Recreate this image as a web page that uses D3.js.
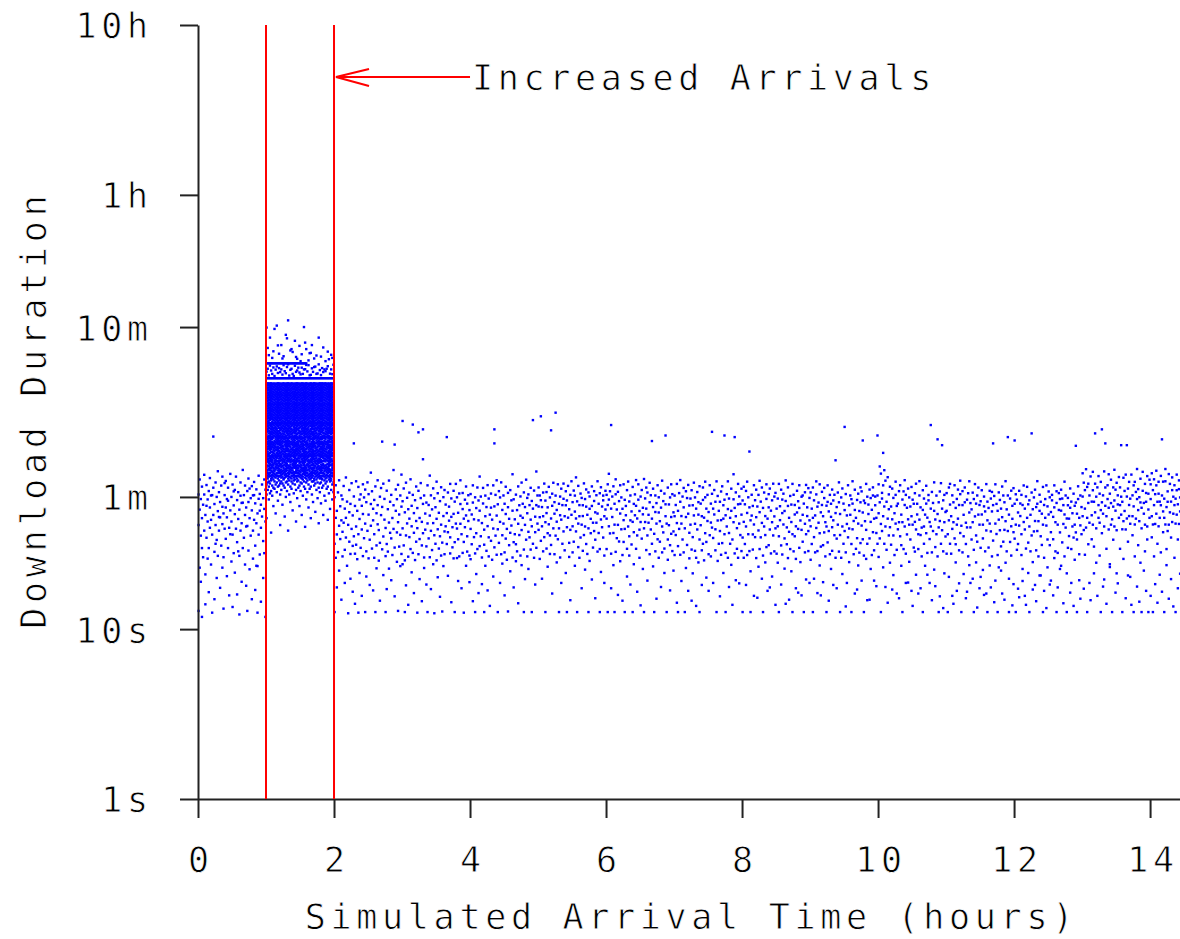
<!DOCTYPE html>
<html>
<head>
<meta charset="utf-8">
<script src="https://cdn.jsdelivr.net/npm/d3@7"></script>
<style>
  body { margin: 0; background: #fff; }
  svg { display: block; }
  .lbl, .tick text {
    font-family: "DejaVu Sans Mono", "Liberation Mono", monospace;
    font-size: 35px;
    letter-spacing: 4.7px;
    fill: #000;
    stroke: #fff;
    stroke-width: 0.8px;
  }
</style>
</head>
<body>
<svg id="chart" width="1180" height="939"></svg>
<script>
// ---- axes ----
const yTickValues = [1, 10, 60, 600, 3600, 36000];
const yTickLabels = ["1s", "10s", "1m", "10m", "1h", "10h"];
const xTickValues = [0, 2, 4, 6, 8, 10, 12, 14];
const xTitle = "Simulated Arrival Time (hours)";
const yTitle = "Download Duration";

// ---- the surge window ----
const surgeHours = [1, 2];
const surgeLabel = "Increased Arrivals";

// ---- download durations, grouped by one-minute arrival bins ----
// hour 0-1, normal load: tenths of a second
const hour0Tenths = [
[620,410,128],[760,505,230],[355,190,583],[690,450,300,118],[540,265],[810,620,380],[470,210,140],[705,345,532],[580,430,260],[650,300,165],
[775,520,395],[440,240,612],[615,360,125],[1360,680,470],[545,285,150],[730,410,318],[600,335,200],[850,495,270],[640,380,457],[560,455,175],
[700,310],[790,525,415,230],[480,265,132],[615,390,724],[745,520,340],[455,205,583],[680,570,300],[395,158],[820,500,362],[600,430,250],
[710,360,135],[535,280,647],[660,475,215],[790,390],[575,325,160],[640,445,287],[505,270,122],[730,610,380],[420,190,553],[865,555,300],
[615,345],[700,470,240],[520,180,402],[650,405,128],[770,560,290],[450,225,672],[590,355],[695,500,150],[380,260,613],[735,615,440],
[550,310,170],[665,420,236],[480,235,125],[800,585,360],[625,275,498],[540,395,145],[710,460],[590,330,200],[760,510,280],[430,118,662]
];

// hour 1-2, increased arrivals: whole seconds
const surgeSeconds = [
[45,62,71,78,81,84,87,90,96,99,103,106,110,114,118,126,131,135,140,145,150,155,161,166,172,178,184,191,197,204,212,219,227,235,243,251,260,269,278,300,367,328,596],
[66,73,77,80,83,86,92,97,100,104,107,111,115,119,123,127,132,136,146,151,157,162,167,174,180,186,192,199,206,213,221,229,237,245,254,262,272,280,300,367,341,452],
[58,69,74,79,82,88,91,95,98,101,105,108,116,120,124,128,133,137,142,147,153,158,164,169,175,181,187,194,201,208,215,223,231,239,247,256,265,274,279,300,367,312,410],
[63,72,80,83,86,89,94,98,102,105,109,113,117,121,125,129,134,138,143,152,159,163,170,176,182,189,195,202,209,216,225,233,241,249,258,266,276,279,300,367,356,520],
[37,65,75,77,80,86,89,92,97,100,104,111,115,119,123,127,132,136,141,146,151,157,162,174,180,186,192,199,206,213,221,229,237,245,254,262,272,280,300,367,333],
[61,70,78,81,84,90,93,96,99,103,106,110,118,122,126,131,135,140,145,150,155,161,166,172,178,184,191,197,204,212,219,227,235,243,251,260,269,278,300,367,318,395],
[53,68,76,80,83,86,89,92,94,102,105,109,113,117,121,125,134,138,143,148,152,159,163,170,176,182,189,195,202,209,216,225,233,241,249,258,266,276,279,300,367,347,432],
[67,74,79,82,85,88,95,98,101,105,108,112,116,120,124,128,137,142,147,153,158,164,169,175,181,187,194,201,208,215,223,231,239,247,256,265,274,279,300,367,309,585],
[48,71,78,81,87,90,93,96,99,103,106,114,118,122,126,131,135,140,145,150,155,161,166,172,178,184,191,197,204,212,219,227,235,243,251,260,269,278,300,367,337],
[64,73,80,83,89,92,94,98,102,105,109,113,117,125,129,134,138,143,148,152,159,163,170,176,182,189,195,202,209,216,225,233,241,249,258,266,276,279,300,367,352,612],
[57,69,77,80,83,86,89,92,97,104,107,111,115,119,123,127,132,136,141,146,157,162,167,174,180,186,192,199,206,213,221,229,237,245,254,262,272,280,300,367,322,468],
[70,75,79,85,88,91,95,98,101,105,108,112,116,124,128,133,137,142,147,153,158,164,169,175,181,187,194,201,208,215,223,231,239,247,256,265,274,279,300,367,344,418],
[41,62,72,80,83,86,92,94,98,102,105,109,117,121,125,129,134,138,143,148,152,159,163,170,176,182,189,195,202,209,216,225,233,241,249,258,266,276,279,300,367,326],
[66,74,78,81,84,87,90,93,99,103,106,110,114,118,122,126,131,135,140,150,155,161,166,172,178,184,191,197,204,212,219,227,235,243,251,260,269,278,300,367,338,470],
[54,72,79,82,85,91,95,98,101,108,112,116,120,124,128,133,137,142,147,153,158,164,169,175,181,187,194,201,208,215,223,231,239,247,256,265,274,279,300,367,315,392],
[70,76,77,83,86,89,92,97,100,104,107,111,115,119,127,132,136,141,146,151,157,162,167,174,180,186,192,199,206,213,221,229,237,245,254,262,272,280,300,367,358,404],
[46,68,78,81,84,87,93,96,99,103,106,110,114,122,126,131,135,140,145,150,155,161,166,172,178,184,191,197,204,212,219,227,235,243,251,260,269,278,300,367,330],
[60,73,79,82,85,88,91,95,101,105,108,112,116,120,124,128,133,137,147,153,158,164,169,175,181,187,194,201,208,215,223,231,239,247,256,265,274,279,300,367,321,540],
[65,74,80,86,89,92,94,98,102,105,113,117,121,125,129,134,138,143,148,152,159,163,170,176,182,189,195,202,209,216,225,233,241,249,258,266,276,279,300,367,349,515],
[38,71,77,80,83,89,92,97,100,104,107,111,115,119,123,127,132,141,146,151,157,162,167,174,180,186,192,199,206,213,221,229,237,245,254,262,272,280,300,367,362,657],
[62,75,79,82,85,88,91,98,101,105,108,112,120,124,128,133,137,142,147,153,158,164,169,175,181,187,194,201,208,215,223,231,239,247,256,265,274,279,300,367,311],
[56,69,78,84,87,90,93,96,99,103,106,110,114,118,122,126,135,140,145,150,155,161,166,172,178,184,191,197,204,212,219,227,235,243,251,260,269,278,300,367,336,437],
[67,74,77,80,83,86,89,97,100,104,107,111,115,123,127,132,136,141,146,151,157,162,167,174,180,186,192,199,206,213,221,229,237,245,254,262,272,280,300,367,341,445],
[50,72,80,83,86,89,92,94,98,105,109,113,117,121,125,129,134,138,143,148,159,163,170,176,182,189,195,202,209,216,225,233,241,249,258,266,276,279,300,367,318,428],
[63,75,78,81,84,90,93,96,99,103,106,110,114,118,122,126,131,135,145,150,155,161,166,172,178,184,191,197,204,212,219,227,235,243,251,260,269,278,300,367,309],
[71,76,80,83,89,92,94,98,102,105,109,113,121,125,129,134,138,143,148,152,159,163,170,176,182,189,195,202,209,216,225,233,241,249,258,266,276,279,300,367,355,498],
[43,66,79,85,88,91,95,98,101,105,108,112,116,120,124,133,137,142,147,153,158,164,169,175,181,187,194,201,208,215,223,231,239,247,256,265,274,279,300,367,327,400],
[59,74,77,80,83,86,89,92,97,100,107,111,115,119,123,127,132,136,141,151,157,162,167,174,180,186,192,199,206,213,221,229,237,245,254,262,272,280,300,367,333,390],
[68,75,80,83,86,89,92,98,102,105,109,113,117,121,125,129,134,143,148,152,159,163,170,176,182,189,195,202,209,216,225,233,241,249,258,266,276,279,300,367,346],
[53,70,79,82,85,91,95,98,101,105,108,112,116,120,128,133,137,142,147,153,158,164,169,175,181,187,194,201,208,215,223,231,239,247,256,265,274,279,300,367,324,465],
[65,73,78,81,84,87,90,93,96,103,106,110,114,118,122,126,131,135,140,145,155,161,166,172,178,184,191,197,204,212,219,227,235,243,251,260,269,278,300,367,316,378],
[47,72,77,80,86,89,92,97,100,104,107,115,119,123,127,132,136,141,146,151,157,162,167,174,180,186,192,199,206,213,221,229,237,245,254,262,272,280,300,367,346,415],
[61,76,79,82,85,88,95,98,101,105,108,112,116,120,124,128,133,142,147,153,158,164,169,175,181,187,194,201,208,215,223,231,239,247,256,265,274,279,300,367,318],
[69,74,83,86,89,92,94,98,102,105,109,113,117,121,129,134,138,143,148,152,159,163,170,176,182,189,195,202,209,216,225,233,241,249,258,266,276,279,300,367,338,600],
[40,67,78,81,84,87,90,96,99,103,106,110,114,122,126,131,135,140,145,150,155,161,166,172,178,184,191,197,204,212,219,227,235,243,251,260,269,278,300,367,339,486],
[58,73,77,80,83,86,89,92,100,104,107,111,115,119,123,127,136,141,146,151,157,162,167,174,180,186,192,199,206,213,221,229,237,245,254,262,272,280,300,367,359,445],
[64,75,80,83,86,92,94,98,102,105,109,117,121,125,129,134,138,143,148,152,159,163,170,176,182,189,195,202,209,216,225,233,241,249,258,266,276,279,300,329],
[52,71,78,81,87,90,93,96,99,103,106,110,114,118,122,131,135,140,145,150,155,161,166,172,178,184,191,197,204,212,219,227,235,243,251,260,269,278,300,358,382],
[67,76,79,82,85,88,91,95,98,105,108,112,116,120,124,128,133,137,142,147,158,164,169,175,181,187,194,201,208,215,223,231,239,247,256,265,274,279,300,312,421],
[45,69,77,80,83,89,92,97,100,104,107,111,115,119,123,132,136,141,146,151,157,162,167,174,180,186,192,199,206,213,221,229,237,245,254,262,272,280,300,314,423],
[62,74,78,81,84,87,93,96,99,103,106,110,114,118,122,126,131,140,145,150,155,161,166,172,178,184,191,197,204,212,219,227,235,243,251,260,269,278,300,343,470],
[56,74,80,83,86,89,92,94,102,105,109,113,117,121,125,129,134,138,143,152,159,163,170,176,182,189,195,202,209,216,225,233,241,249,258,266,276,279,300,327],
[70,75,77,83,86,89,92,97,100,104,107,111,119,123,127,132,136,141,146,151,157,162,167,174,180,186,192,199,206,213,221,229,237,245,254,262,272,280,300,349,392],
[49,72,79,82,85,91,95,98,101,105,108,112,116,120,124,133,137,142,147,153,158,164,169,175,181,187,194,201,208,215,223,231,239,247,256,265,274,279,300,351],
[66,76,80,83,86,89,94,98,102,105,109,113,117,125,129,134,138,143,148,152,159,163,170,176,182,189,195,202,209,216,225,233,241,249,258,266,276,279,300,318,408],
[59,73,78,81,84,87,90,93,96,99,106,110,114,118,122,126,131,135,140,150,155,161,166,172,178,184,191,197,204,212,219,227,235,243,251,260,269,278,300,320],
[42,68,79,82,88,91,95,98,101,105,108,112,120,124,128,133,137,142,147,153,158,164,169,175,181,187,194,201,208,215,223,231,239,247,256,265,274,279,300,362,520],
[64,72,77,80,83,86,89,97,100,104,107,111,115,119,123,127,132,141,146,151,157,162,167,174,180,186,192,199,206,213,221,229,237,245,254,262,272,280,300,335],
[55,73,78,84,87,90,93,96,99,103,106,110,114,118,126,131,135,140,145,150,155,161,166,172,178,184,191,197,204,212,219,227,235,243,251,260,269,278,300,313,402],
[68,76,77,80,83,86,89,92,97,104,107,111,115,119,123,127,132,136,146,151,157,162,167,174,180,186,192,199,206,213,221,229,237,245,254,262,272,280,300,344],
[47,70,80,83,89,92,94,98,102,105,109,113,117,121,125,134,138,143,148,152,159,163,170,176,182,189,195,202,209,216,225,233,241,249,258,266,276,279,300,326,455],
[61,75,79,82,85,88,91,98,101,105,108,112,116,120,124,128,133,137,142,153,158,164,169,175,181,187,194,201,208,215,223,231,239,247,256,265,274,279,300,338],
[57,72,77,80,86,89,92,97,100,104,107,111,115,123,127,132,136,141,146,151,157,162,167,174,180,186,192,199,206,213,221,229,237,245,254,262,272,280,300,330,378],
[67,74,78,81,84,87,90,93,99,103,106,110,114,118,122,126,135,140,145,150,155,161,166,172,178,184,191,197,204,212,219,227,235,243,251,260,269,278,300,341],
[44,69,80,83,86,89,94,98,102,105,109,117,121,125,129,134,138,143,148,152,159,163,170,176,182,189,195,202,209,216,225,233,241,249,258,266,276,279,300,353,430],
[63,76,79,85,88,91,95,98,101,105,108,112,116,120,128,133,137,142,147,153,158,164,169,175,181,187,194,201,208,215,223,231,239,247,256,265,274,279,300,388],
[51,74,78,81,84,87,93,96,99,103,106,110,114,118,122,126,131,135,145,150,155,161,166,172,178,184,191,197,204,212,219,227,235,243,251,260,269,278,300,319],
[66,75,77,80,83,86,92,97,100,104,107,111,115,119,127,132,136,141,146,151,157,162,167,174,180,186,192,199,206,213,221,229,237,245,254,262,272,280,300,338,412],
[58,71,80,83,86,89,92,94,98,105,109,113,117,121,125,129,134,143,148,152,159,163,170,176,182,189,195,202,209,216,225,233,241,249,258,266,276,279,300,317,395],
[64,73,79,82,88,91,95,98,101,105,108,116,120,124,128,133,137,142,147,153,158,164,169,175,181,187,194,201,208,215,223,231,239,247,256,265,274,279,300,360]
];

// hours 2-14, normal load again: tenths of a second
const hour2Tenths = [
[318,598,126],[452,263,703],[176,497,361],[638,284],[406,752,221],[529,339],[149,437,612],[374,268,581],[696,423],[293,512,187],
[781,346,452],[563,236],[411,124],[327,659,488],[198,546,277],[389,723],[467,309,166],[1240,604,352],[278,531,141],[742,402,314],
[497,258],[362,687,125],[214,445,579],[621,301],[386,157,532],[476,712,269],[343,596],[126,418,663],[559,287,204],[731,379],
[261,472,623],[336,182],[545,406,834],[298,648],[437,169,511],[576,362,263],[692,126],[311,481,228],[414,537,752],[253,383],
[602,322,147],[469,677],[1270,295,524],[351,208,718],[584,441],[269,394,126],[653,317,172],[508,286],[227,424,749],[562,369],
[342,617,194],[451,273],[864,389,536],[1220,302,156],[497,664],[371,249,582],[128,426,707],[306,473],[612,359,235],[277,526,812]
];
const hour3Tenths = [
[1680,392,566,241],[311,673],[487,126,254],[728,356,181],[419,593],[267,508,139],[636,348,447],[296,762],[532,403,216],[1600,281,617],
[369,482,163],[574,255],[433,327,691],[125,516,393],[1440,276,652],[451,339,197],[591,724],[311,428,146],[1000,1500,367,546],[264,612,229],
[479,385],[183,556,307],[702,419,126],[342,538],[265,466,801],[613,379,172],[292,507],[421,674,241],[357,589,124],[522,318],
[254,446,738],[387,631,202],[298,484],[567,352,155],[684,271,412],[323,127],[463,598,235],[376,276,659],[541,403],[1350,317,482],
[206,637,372],[435,526],[279,347,716],[588,144,458],[398,303],[652,477,261],[325,126,563],[716,418],[262,391,597],[484,192,338],
[629,268],[417,545,752],[362,174],[281,509,633],[447,326,125],[578,398],[236,467,691],[352,286,548],[614,433],[271,502,189]
];
const hour4Tenths = [
[389,624,258],[473,316],[146,556,702],[348,443],[279,597,126],[516,367,211],[682,296],[437,572,163],[308,498,791],[603,352],
[264,421,184],[549,678],[385,126,314],[462,611,236],[289,523],[704,404,169],[347,587,268],[472,137],[628,331,519],[256,441],
[391,702,204],[1500,1240,528,303],[617,355],[274,466,752],[543,126,387],[322,649],[428,187,596],[731,276],[357,503,243],[612,418],
[283,547,158],[476,341,689],[389,256],[522,634,127],[312,446],[658,369,219],[407,573],[264,498,816],[581,325,176],[443,362],
[316,619,251],[502,287],[692,417,142],[358,536],[465,271,604],[238,383,729],[547,452],[294,126,638],[411,523,197],[758,336],
[268,481,592],[621,374,226],[347,537],[441,294,679],[126,568,403],[1700,318,512],[654,263],[372,459,183],[537,301,847],[418,612]
];
const hour5Tenths = [
[527,384,682],[456,612,259],[1790,331,574],[403,523,198],[637,287,462],[348,719],[571,426,126],[298,482,641],[521,367,233],[688,414],
[356,596,277],[1480,448,313],[627,532,162],[392,727],[478,276,559],[1880,611,355],[429,503,247],[712,338],[547,392,126],[264,603,468],
[671,441,187],[318,537],[585,376,719],[462,291],[536,648,214],[398,126,572],[697,453],[322,508,266],[617,384,148],[471,742],
[283,559,403],[654,327],[492,611,236],[376,448,782],[565,126],[418,697,304],[537,263,462],[346,628],[592,412,174],[463,536,289],
[721,358],[402,583,224],[526,317,664],[277,471],[638,392,126],[511,604,252],[367,446],[692,531,196],[423,302],[568,649,378],
[336,487,152],[614,423],[479,286,742],[547,368],[296,631,126],[684,442,217],[398,527],[573,346,611],[462,271,187],[652,506]
];
const hour6Tenths = [
[617,447,296],[538,126,712],[821,403,579],[366,648],[1590,512,278,174],[457,603],[693,368,238],[412,547,126],[285,622,762],[506,343],
[643,411,159],[328,567],[479,703,251],[596,387],[273,511,147],[712,438,326],[389,126,577],[531,468],[658,297,204],[402,739],
[564,352,271],[437,612,183],[315,493],[687,126,428],[546,372,241],[621,468],[297,532,754],[448,356,166],[712,578],[385,263,496],
[603,427,138],[341,659],[518,474,226],[765,392,126],[427,588],[292,512,681],[637,356,193],[471,423],[558,276,727],[386,614],
[1280,447,318],[523,671,234],[364,126],[612,489,287],[418,552,151],[703,338],[486,597,263],[327,432],[652,519,177],[402,283,748],
[567,371],[298,628,214],[1380,462,543],[418,126],[681,337,256],[542,409],[312,596,169],[457,712,364],[623,288],[376,487,221]
];
const hour7Tenths = [
[462,611,273],[358,538],[716,421,143],[497,126,308],[632,389],[274,562,754],[418,463,192],[603,337],[521,283,678],[392,126],
[648,457,229],[313,591],[478,706,168],[369,534,261],[587,412],[294,147,657],[536,348,213],[728,467],[417,289,596],[263,512,137],
[641,386],[472,559,247],[337,694,126],[548,409],[291,462,182],[682,576,318],[453,254],[597,367,738],[326,512,201],[617,433],
[489,168,276],[703,357],[268,548,424],[1450,396,626],[512,187,344],[659,473],[387,291,562],[741,126],[436,608,252],[318,497],
[562,378,156],[274,646,438],[693,321],[447,536,214],[1380,362,578],[281,468,126],[623,402],[509,263,741],[368,587,177],[452,318],
[671,497,239],[337,139],[581,426,816],[1350,279,517],[462,638,194],[393,297],[716,543,263],[418,186,604],[546,358],[288,472,671]
];
const hour8Tenths = [
[572,346,126],[428,689,263],[317,543],[651,402,182],[483,273,738],[362,597],[1110,521,288],[437,126,219],[618,466],[294,531,361],
[703,413,157],[348,574],[456,262,662],[527,153],[381,617,233],[296,488,747],[563,347],[422,682,198],[271,517,126],[637,402],
[358,463,247],[584,304,712],[447,168],[312,623,521],[672,386,176],[498,279],[573,426,204],[356,718],[461,287,603],[634,139,392],
[278,512],[403,587,246],[716,352,126],[529,438],[311,662,183],[482,275,579],[627,413],[342,496,227],[568,141,751],[397,316],
[683,531,262],[452,374,149],[296,608],[541,427,219],[362,716,126],[618,287],[473,538,352],[259,403,174],[652,486],[389,566,164],
[517,301,703],[436,248],[602,384,158],[327,471,612],[548,126],[283,639,417],[706,362,196],[463,521],[378,288,676],[592,437,187]
];
const hour9Tenths = [
[403,638,256],[512,317],[682,452,126],[348,573,198],[467,283],[621,394,741],[288,526,163],[556,423],[367,712,237],[487,158,306],
[643,538],[312,462,189],[591,371,678],[426,268],[533,126,402],[702,324,561],[378,493,147],[617,276],[458,547,226],[289,663,398],
[572,437,182],[357,618],[986,482,263],[523,341,174],[637,412],[286,558,731],[476,126,358],[596,263],[402,673,211],[548,318],
[1550,378,502],[283,624,136],[467,416,187],[703,347],[391,536,248],[612,471],[317,126,582],[548,387,742],[433,276],[662,503,162],
[297,452],[576,343,171],[418,627,237],[496,282],[321,558,683],[647,407,193],[1290,486,338],[271,571,126],[552,432],[384,716,259],
[602,318,148],[476,541],[342,149,663],[591,428,226],[273,504],[683,372,612],[447,193,291],[536,603],[368,452,179],[1380,612,318]
];
const hour10Tenths = [
[712,481,266],[907,558,342],[823,416,126],[634,378,587],[1090,702,462,231],[862,527,318],[748,402,177],[562,293],[784,447,143],[621,356,508],
[398,246,689],[527,314],[672,443,171],[356,592,208],[481,273],[617,418,738],[293,531,162],[548,387],[426,152,649],[703,352],
[312,472,236],[579,426,126],[647,296],[402,538,753],[278,617,187],[518,361],[443,188,672],[596,412,249],[337,527],[687,462,168],
[412,137,578],[547,302],[286,631,428],[718,386,209],[473,547],[362,162,296],[612,441,743],[521,358,174],[396,268],[657,503,126],
[318,587,402],[472,236],[698,367,548],[281,453,209],[573,616],[427,339,187],[1590,512,402],[642,148,283],[378,553],[497,731,224],
[304,442,179],[611,362],[1310,476,268],[558,397,126],[433,156,646],[723,318],[1210,512,382],[287,573,133],[617,426,213],[351,489]
];
const hour11Tenths = [
[497,632,278],[362,126],[682,437,203],[541,318,716],[278,462],[613,389,157],[426,141,558],[703,342],[316,517,247],[584,412,168],
[447,663],[291,538,186],[623,368,748],[406,126],[537,283,649],[352,471,211],[682,558],[423,152,317],[578,397,166],[268,631],
[742,486,238],[397,187,552],[507,337],[636,426,198],[293,583,126],[461,714],[548,356,247],[327,134,612],[681,472],[412,538,174],
[566,301,203],[473,657],[342,412,223],[603,159,528],[287,493],[714,381,162],[437,563,126],[517,302],[652,418,237],[376,176,587],
[493,642,268],[1240,332,537],[608,144],[418,712,193],[546,363],[273,497,126],[638,441,231],[382,576],[512,221,307],[691,456,162],
[327,612],[558,384,149],[432,743,246],[287,507],[1350,612,378],[472,126,198],[587,326],[403,653,271],[532,138,446],[676,372,184]
];
const hour12Tenths = [
[1290,547,341],[412,126,622],[578,293],[317,486,173],[652,407,154],[463,549],[273,617,362],[538,192,226],[701,427],[386,512,157],
[604,139,298],[452,688],[323,543,214],[573,126,402],[287,471],[1420,637,356],[508,171,248],[376,596],[662,433,182],[291,146,523],
[547,378,743],[432,268],[618,207,497],[352,562,207],[478,313],[687,126,412],[263,538,168],[583,452],[407,133,702],[528,337,231],
[646,473],[312,183,597],[489,372,193],[573,617],[338,158,458],[702,521,262],[426,287],[553,126,648],[281,412,176],[632,503],
[371,226,583],[498,662,236],[587,324],[416,142,537],[268,473,738],[612,396],[448,126,213],[536,592,301],[353,447],[673,164,518],
[296,563,187],[481,402],[627,137,346],[412,532,256],[1200,556,371],[337,126,478],[583,693],[452,276,194],[612,151,408],[523,362]
];
const hour13Tenths = [
[603,462,827],[728,173,383],[512,658,274],[396,874],[687,126,452],[553,718,316],[423,612,187],[792,148],[468,563,338],[657,412,843],
[562,213,306],[1420,718,487],[392,602,246],[683,157],[537,452,796],[423,627,271],[736,126,502],[1500,558,367],[613,478,178],[848,196,402],
[1240,532,682],[462,141,297],[703,583],[386,518,816],[627,232,241],[552,758,412],[443,126],[683,526,336],[572,402,867],[498,164,662],
[727,382,213],[613,186,542],[452,786],[683,537,297],[1210,472,602],[562,126,387],[778,432,259],[496,651],[386,152,812],[1210,603,448],
[672,207,327],[538,736,463],[417,586,203],[812,139],[613,462,357],[528,126,702],[736,413,268],[447,642],[583,178,876],[667,502,312],
[432,145,598],[768,557,246],[518,126,392],[652,843],[478,221,553],[716,412,287],[562,168,633],[402,796,337],[627,126,506],[758,452]
];
const hour14Tenths = [
[583,157,712],[462,827,347],[658,126,413],[537,762,268],[416,184,623],[702,478,856],[562,143,318],[627,403,737],[452,209,563],[798,536,283],
[1310,612,166],[493,738,372],[586,126,452],[742,413,876],[523,238,296],[647,562,378],[412,151,818],[716,487],[563,197,346],[658,427,782],
[478,136,602],[703,537,263],[586,126,418],[812,472,657],[543,174,337],[667,416,751],[493,212,596]
];

// ---- assemble points ----
const blocks = [
  { start: 0, unit: 0.1, bins: hour0Tenths },
  { start: 1, unit: 1, bins: surgeSeconds },
  { start: 2, unit: 0.1, bins: hour2Tenths },
  { start: 3, unit: 0.1, bins: hour3Tenths },
  { start: 4, unit: 0.1, bins: hour4Tenths },
  { start: 5, unit: 0.1, bins: hour5Tenths },
  { start: 6, unit: 0.1, bins: hour6Tenths },
  { start: 7, unit: 0.1, bins: hour7Tenths },
  { start: 8, unit: 0.1, bins: hour8Tenths },
  { start: 9, unit: 0.1, bins: hour9Tenths },
  { start: 10, unit: 0.1, bins: hour10Tenths },
  { start: 11, unit: 0.1, bins: hour11Tenths },
  { start: 12, unit: 0.1, bins: hour12Tenths },
  { start: 13, unit: 0.1, bins: hour13Tenths },
  { start: 14, unit: 0.1, bins: hour14Tenths }
];
const points = blocks.flatMap(b =>
  b.bins.flatMap((vals, i) =>
    vals.map(v => ({ hour: b.start + (i + 0.5) / 60, seconds: v * b.unit }))));

// ---- scales ----
const x = d3.scaleLinear().domain([0, 14.44]).range([198, 1180]);
const y = d3.scaleLog().domain([1, 36000]).range([799, 25]);
const LS = 4.7;   // letter spacing used by all labels
const DOT = 2.4;  // marker size in pixels

const svg = d3.select("#chart");

// scatter of downloads
svg.append("g")
  .attr("fill", "#0000ff")
  .selectAll("rect")
  .data(points)
  .join("rect")
  .attr("x", d => x(d.hour) - DOT / 2)
  .attr("y", d => y(d.seconds) - DOT / 2)
  .attr("width", DOT)
  .attr("height", DOT);

// y axis
const gy = svg.append("g")
  .attr("transform", `translate(${x(0)},0)`)
  .call(d3.axisLeft(y)
    .tickValues(yTickValues)
    .tickFormat((d, i) => yTickLabels[i])
    .tickSize(18)
    .tickSizeOuter(0)
    .tickPadding(32));
gy.selectAll("text").attr("dy", "0.37em").attr("dx", LS);

// x axis
const gx = svg.append("g")
  .attr("transform", `translate(0,${y(1)})`)
  .call(d3.axisBottom(x)
    .tickValues(xTickValues)
    .tickFormat(d3.format("d"))
    .tickSize(19)
    .tickSizeOuter(0)
    .tickPadding(29));
gx.selectAll("text").attr("dx", LS / 2);

[gx, gy].forEach(g => {
  g.attr("font-family", null).attr("font-size", null);
  g.select(".domain").attr("stroke", "#222").attr("stroke-width", 2);
  g.selectAll(".tick line").attr("stroke", "#222").attr("stroke-width", 2);
});

// surge window borders
svg.append("g")
  .selectAll("line")
  .data(surgeHours)
  .join("line")
  .attr("x1", d => x(d)).attr("x2", d => x(d))
  .attr("y1", y(36000)).attr("y2", y(1))
  .attr("stroke", "#ff0000")
  .attr("stroke-width", 2);

// annotation arrow pointing at the end of the surge
const tipX = x(surgeHours[1]) + 2, arrowY = 77, tailX = x(4);
const ann = svg.append("g").attr("stroke", "#ff0000").attr("stroke-width", 2).attr("fill", "none");
ann.append("line").attr("x1", tipX).attr("x2", tailX).attr("y1", arrowY).attr("y2", arrowY);
ann.append("path").attr("d", `M${tipX + 33},${arrowY - 8}L${tipX},${arrowY}L${tipX + 33},${arrowY + 9}`);

svg.append("text")
  .attr("class", "lbl")
  .attr("x", tailX + 2)
  .attr("y", 90)
  .text(surgeLabel);

// axis titles
svg.append("text")
  .attr("class", "lbl")
  .attr("x", (x.range()[0] + x.range()[1]) / 2 + LS / 2)
  .attr("y", 929)
  .attr("text-anchor", "middle")
  .text(xTitle);

svg.append("text")
  .attr("class", "lbl")
  .attr("transform", `translate(46,${(y.range()[0] + y.range()[1]) / 2}) rotate(-90)`)
  .attr("text-anchor", "middle")
  .attr("dx", LS / 2)
  .text(yTitle);
</script>
</body>
</html>
